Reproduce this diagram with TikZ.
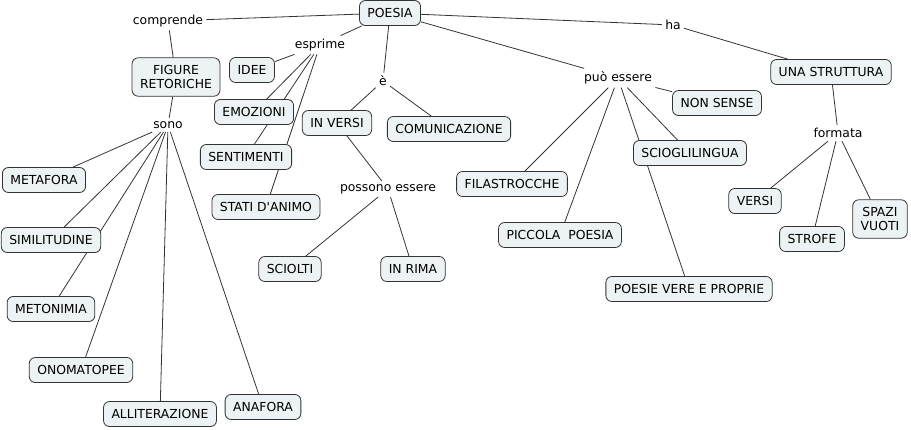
\documentclass[tikz,border=0pt]{standalone}
\usepackage{fontspec}
\setmainfont{DejaVu Sans}
\usetikzlibrary{backgrounds}
\definecolor{mapfill}{HTML}{EDF2F5}
\definecolor{mapline}{HTML}{333333}

\begin{document}
\begin{tikzpicture}[x=1pt,y=-1pt,line width=0.8pt,
  concept/.style={draw=mapline,fill=mapfill,rounded corners=6pt,inner xsep=8pt,inner ysep=7.5pt,minimum height=25pt,align=center,font=\fontsize{12.4}{14}\selectfont},
  phrase/.style={inner sep=3pt,font=\fontsize{12.4}{14}\selectfont},
  link/.style={draw=mapline,line width=0.8pt}]
\useasboundingbox (0,0) rectangle (911,429);
% concetti
\node[concept] (poesia) at (390,13) {POESIA};
\node[concept] (figure) at (176,77) {FIGURE\\RETORICHE};
\node[concept] (idee) at (252,70) {IDEE};
\node[concept] (emozioni) at (254,112) {EMOZIONI};
\node[concept] (sentimenti) at (246,157) {SENTIMENTI};
\node[concept] (stati) at (266,207) {STATI D\textquotesingle ANIMO};
\node[concept] (inversi) at (337,123) {IN VERSI};
\node[concept] (comunicazione) at (449,129) {COMUNICAZIONE};
\node[concept] (sciolti) at (290,269) {SCIOLTI};
\node[concept] (inrima) at (413,269) {IN RIMA};
\node[concept] (struttura) at (831,72) {UNA STRUTTURA};
\node[concept] (versi) at (755,201) {VERSI};
\node[concept] (strofe) at (812,239) {STROFE};
\node[concept] (spazi) at (880,219) {SPAZI\\VUOTI};
\node[concept] (nonsense) at (717,103) {NON SENSE};
\node[concept] (scioglilingua) at (690,153) {SCIOGLILINGUA};
\node[concept] (filastrocche) at (512,184) {FILASTROCCHE};
\node[concept] (piccola) at (560,235) {PICCOLA\ \ POESIA};
\node[concept] (vere) at (689,289) {POESIE VERE E PROPRIE};
\node[concept] (metafora) at (44,180) {METAFORA};
\node[concept] (similitudine) at (51,240) {SIMILITUDINE};
\node[concept] (metonimia) at (51,309) {METONIMIA};
\node[concept] (onomatopee) at (81,370) {ONOMATOPEE};
\node[concept] (alliterazione) at (160,414) {ALLITERAZIONE};
\node[concept] (anafora) at (263,407) {ANAFORA};
% frasi legame
\node[phrase] (comprende) at (168,21) {comprende};
\node[phrase] (sono) at (168,125) {sono};
\node[phrase] (esprime) at (320,45) {esprime};
\node[phrase] (e) at (383,81) {è};
\node[phrase] (possono) at (388,189) {possono essere};
\node[phrase] (ha) at (673,25) {ha};
\node[phrase] (formata) at (838,133) {formata};
\node[phrase] (puo) at (618,78) {può essere};
% collegamenti
\begin{scope}[on background layer]
\draw[link] (poesia) -- (comprende);
\draw[link] (comprende) -- (figure);
\draw[link] (figure) -- (sono);
\foreach \n in {metafora,similitudine,metonimia,onomatopee,alliterazione,anafora}
  \draw[link] (sono) -- (\n);
\draw[link] (poesia) -- (esprime);
\foreach \n in {idee,emozioni,sentimenti,stati}
  \draw[link] (esprime) -- (\n);
\draw[link] (poesia) -- (e);
\draw[link] (e) -- (inversi);
\draw[link] (e) -- (comunicazione);
\draw[link] (inversi) -- (possono);
\draw[link] (possono) -- (sciolti);
\draw[link] (possono) -- (inrima);
\draw[link] (poesia) -- (ha);
\draw[link] (ha) -- (struttura);
\draw[link] (struttura) -- (formata);
\foreach \n in {versi,strofe,spazi}
  \draw[link] (formata) -- (\n);
\draw[link] (poesia) -- (puo);
\foreach \n in {nonsense,scioglilingua,filastrocche,piccola,vere}
  \draw[link] (puo) -- (\n);
\end{scope}
\end{tikzpicture}
\end{document}
